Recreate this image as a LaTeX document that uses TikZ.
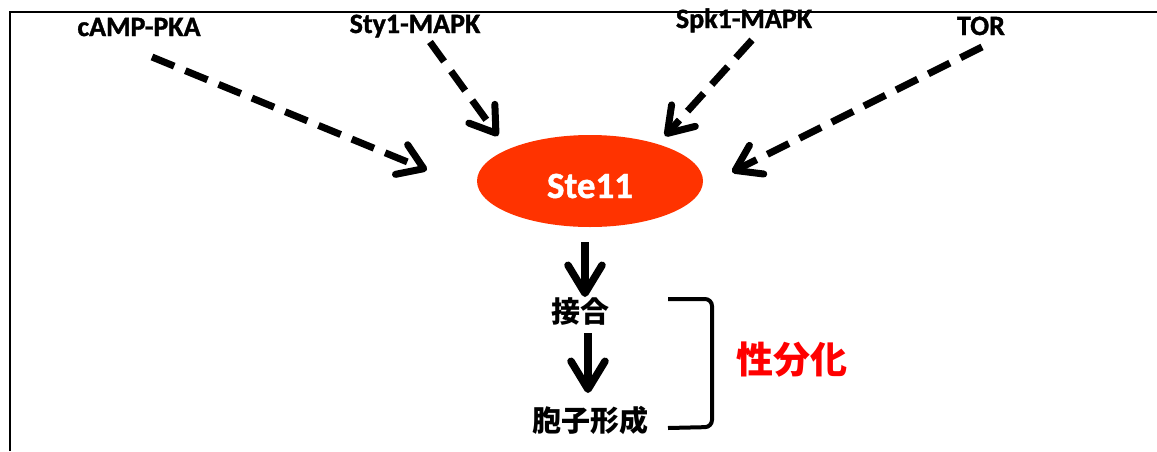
\documentclass[tikz,border=0pt]{standalone}
\usepackage{fontspec}
\setmainfont{Carlito}[BoldFeatures={FakeBold=1.2}]
\newfontfamily\cjk{Noto Sans CJK JP}
\usetikzlibrary{arrows.meta,shapes.geometric}

\definecolor{steorange}{RGB}{255,51,0}
\definecolor{sexred}{RGB}{255,0,0}

\begin{document}
\begin{tikzpicture}[x=1pt,y=-1pt,
  lbl/.style={font=\fontsize{28}{32}\selectfont\bfseries, anchor=base, inner sep=0pt},
  jp/.style={font=\cjk\bfseries\fontsize{29}{34}\selectfont, inner sep=0pt},
  dasharrow/.style={line width=7pt, dash pattern=on 24pt off 12pt,
    -{Straight Barb[length=24pt,width=32pt,round]}},
  solidarrow/.style={line width=7.5pt,
    -{Straight Barb[length=28pt,width=34pt,round]}},
  hub/.style={ellipse, fill=steorange, text=white, inner sep=0pt,
    minimum width=226pt, minimum height=92pt,
    font=\fontsize{37}{42}\selectfont\bfseries,
    text height=34pt, text depth=0pt}
]
\useasboundingbox (0,0) rectangle (1157,451);

% frame
\draw[line width=2.5pt] (10,451) -- (10,12) -- (1157,12);

% upstream regulators
\node[lbl] (camp) at (139,36) {cAMP-PKA};
\node[lbl] (sty)  at (415,33) {Sty1-MAPK};
\node[lbl] (spk)  at (744,28) {Spk1-MAPK};
\node[lbl] (tor)  at (981,35) {TOR};

% central kinase
\node[hub] (ste) at (590,181) {Ste11};

% downstream processes
\node[jp] (conj)  at (580,312) {接合};
\node[jp] (spore) at (590,420) {胞子形成};
\node[jp, text=sexred, font=\cjk\bfseries\fontsize{37}{42}\selectfont] (sexdiff) at (792,360) {性分化};

% arrow end points
\coordinate (campS) at (152,57);  \coordinate (campT) at (427,170);
\coordinate (styS)  at (430,42);  \coordinate (styT)  at (498,136);
\coordinate (spkS)  at (752,40);  \coordinate (spkT)  at (665,136);
\coordinate (torS)  at (982,47);  \coordinate (torT)  at (732,172);
\coordinate (s1S) at (585,242);   \coordinate (s1T) at (585,297);
\coordinate (s2S) at (588,333);   \coordinate (s2T) at (588,393);

\draw[dasharrow] (campS) -- (campT);
\draw[dasharrow] (styS)  -- (styT);
\draw[dasharrow] (spkS)  -- (spkT);
\draw[dasharrow] (torS)  -- (torT);

\draw[solidarrow] (s1S) -- (s1T);
\draw[solidarrow] (s2S) -- (s2T);

% bracket grouping mating and sporulation
\draw[line width=4pt, rounded corners=7pt] (668,299) -- (712,299) -- (712,427) -- (668,428);
\end{tikzpicture}
\end{document}
